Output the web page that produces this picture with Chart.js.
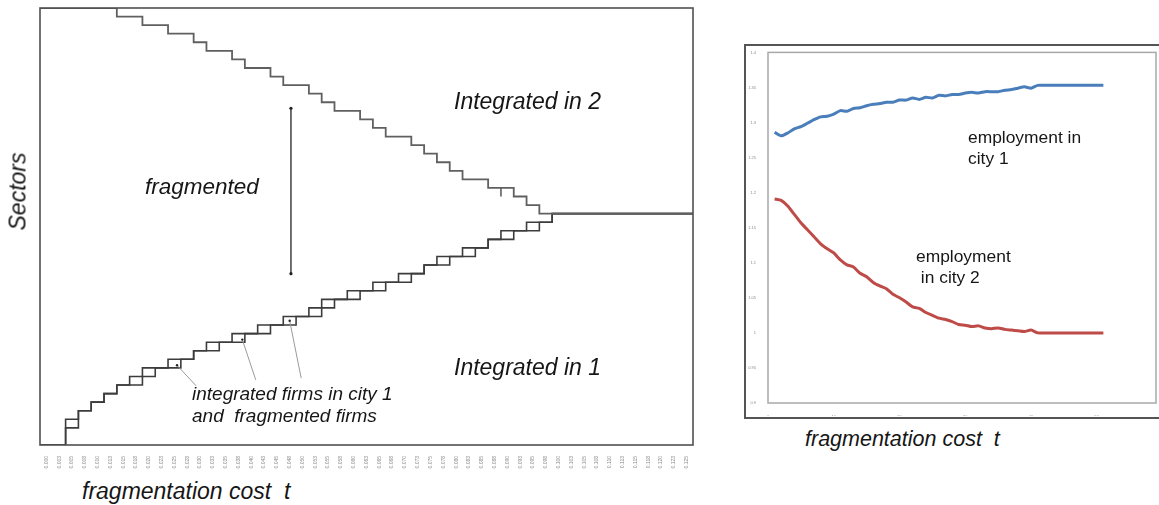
<!DOCTYPE html>
<html>
<head>
<meta charset="utf-8">
<script src="https://cdn.jsdelivr.net/npm/chart.js@4.4.1/dist/chart.umd.min.js"></script>
<style>
  body { margin: 0; background: #fff; width: 1159px; height: 505px; overflow: hidden; position: relative;
         font-family: "Liberation Sans", Arial, sans-serif; }
  .txt { position: absolute; color: #161616; white-space: pre; line-height: 1; }
  .it { font-style: italic; }
  #left { position: absolute; left: 0; top: 0; }
  #rightFrame { position: absolute; left: 744px; top: 44px; width: 440px; height: 371px; border: 2px solid #555; }
  #right { position: absolute; left: 745px; top: 46px; }
</style>
</head>
<body>
<canvas id="left" width="700" height="475"></canvas>
<div id="rightFrame"></div>
<canvas id="right" width="420" height="370"></canvas>

<div class="txt it" style="left:454px;top:90px;font-size:23px;">Integrated in 2</div>
<div class="txt it" style="left:145px;top:176px;font-size:22.5px;">fragmented</div>
<div class="txt it" style="left:454px;top:356px;font-size:23px;">Integrated in 1</div>
<div class="txt it" style="left:192px;top:384px;font-size:19px;">integrated firms in city 1</div>
<div class="txt it" style="left:192px;top:406px;font-size:19px;">and  fragmented firms</div>
<div class="txt it" style="left:82px;top:480px;font-size:23px;">fragmentation cost  t</div>
<div class="txt it" style="left:-25px;top:180px;width:86px;text-align:center;font-size:23px;transform:rotate(-90deg);">Sectors</div>
<div class="txt it" style="left:805px;top:429px;font-size:21.5px;">fragmentation cost  t</div>
<div class="txt" style="left:968px;top:127px;font-size:17.4px;line-height:21px;">employment in
city 1</div>
<div class="txt" style="left:916px;top:246px;font-size:17.4px;line-height:21px;">employment
 in city 2</div>

<script>
// axis labels of the left panel (fragmentation cost t)
const tLabels = ['0.000','0.003','0.005','0.008','0.010','0.013','0.015','0.018','0.020','0.023',
  '0.025','0.028','0.030','0.033','0.035','0.038','0.040','0.043','0.045','0.048',
  '0.050','0.053','0.055','0.058','0.060','0.063','0.065','0.068','0.070','0.073',
  '0.075','0.078','0.080','0.083','0.085','0.088','0.090','0.093','0.095','0.098',
  '0.100','0.103','0.105','0.108','0.110','0.113','0.115','0.118','0.120','0.123','0.125'];

// sector level of each boundary, one value per t
const upperLevels = [51,51,51,51,51,51,50,50,49,49,48,48,47,46,46,45,44,44,43,42,
  42,41,40,39,39,38,37,36,36,35,34,33,32,31,31,30,30,29,28,27,
  27,27,27,27,27,27,27,27,27,27,27];
const lowerLevelsA = [0,0,3,4,5,6,7,8,9,9,10,10,11,12,12,13,13,14,14,15,
  15,16,17,17,18,18,19,19,20,20,21,22,22,23,23,24,25,25,26,26,
  27,27,27,27,27,27,27,27,27,27,27];
const lowerLevelsB = [0,0,2,4,5,6,7,7,8,9,9,10,11,11,12,12,13,13,14,14,
  15,15,16,17,17,18,18,19,19,20,21,21,22,22,23,24,24,25,25,26,
  27,27,27,27,27,27,27,27,27,27,27];
const notchX = [35.5, 35.5];
const notchY = [30, 29];

// annotation marks (data units)
const arrowX = 19.1;
const arrowY = [39.3, 20];
const leaderFrom = [[10.2, 9.3], [15.3, 12.3], [19.0, 14.5]];
const leaderTo = [[11.7, 6.9], [16.35, 7.6], [19.9, 7.8]];

// right panel: employment by step of t
const city1 = [1.286,1.281,1.285,1.291,1.294,1.299,1.304,1.308,1.309,1.312,
  1.317,1.316,1.320,1.321,1.324,1.326,1.327,1.329,1.329,1.332,
  1.332,1.335,1.333,1.336,1.335,1.339,1.338,1.340,1.340,1.342,
  1.343,1.342,1.344,1.344,1.344,1.346,1.347,1.349,1.351,1.349,
  1.353,1.353,1.353,1.353,1.353,1.353,1.353,1.353,1.353,1.353,1.353];
const city2 = [1.191,1.189,1.181,1.169,1.157,1.147,1.137,1.127,1.120,1.114,
  1.104,1.097,1.094,1.085,1.080,1.072,1.067,1.063,1.055,1.050,
  1.044,1.037,1.035,1.029,1.025,1.021,1.019,1.016,1.012,1.011,
  1.009,1.010,1.007,1.006,1.007,1.005,1.004,1.003,1.002,1.004,
  1.000,1.000,1.000,1.000,1.000,1.000,1.000,1.000,1.000,1.000,1.000];
const yLabelsRight = {'0.9':'0.9','0.95':'0.95','1':'1','1.05':'1.05','1.1':'1.1','1.15':'1.15',
  '1.2':'1.2','1.25':'1.25','1.3':'1.3','1.35':'1.35','1.4':'1.4'};

function toSteps(levels) {
    const pts = levels.map((v, i) => ({ x: i - 0.5, y: v }));
    pts.push({ x: levels.length - 0.5, y: levels[levels.length - 1] });
    return pts;
}

const framePlugin = {
    id: 'frame',
    afterDraw(chart, args, opts) {
        const a = chart.chartArea;
        const ctx = chart.ctx;
        ctx.save();
        ctx.strokeStyle = opts.color;
        ctx.lineWidth = opts.width;
        ctx.strokeRect(a.left, a.top, a.right - a.left, a.bottom - a.top);
        ctx.restore();
    }
};

const marksPlugin = {
    id: 'marks',
    afterDatasetsDraw(chart) {
        const ctx = chart.ctx;
        const x = chart.scales.x, y = chart.scales.y;
        ctx.save();
        // arrow between the two boundaries
        const ax = x.getPixelForValue(arrowX);
        ctx.strokeStyle = '#333';
        ctx.lineWidth = 1.4;
        ctx.beginPath();
        ctx.moveTo(ax, y.getPixelForValue(arrowY[0]));
        ctx.lineTo(ax, y.getPixelForValue(arrowY[1]));
        ctx.stroke();
        ctx.fillStyle = '#222';
        arrowY.forEach(v => {
            ctx.beginPath();
            ctx.arc(ax, y.getPixelForValue(v), 1.6, 0, Math.PI * 2);
            ctx.fill();
        });
        // leader lines to the note
        ctx.strokeStyle = '#9a9a9a';
        ctx.lineWidth = 1;
        leaderFrom.forEach((p, i) => {
            const q = leaderTo[i];
            ctx.beginPath();
            ctx.moveTo(x.getPixelForValue(p[0]), y.getPixelForValue(p[1]));
            ctx.lineTo(x.getPixelForValue(q[0]), y.getPixelForValue(q[1]));
            ctx.stroke();
            ctx.beginPath();
            ctx.arc(x.getPixelForValue(p[0]), y.getPixelForValue(p[1]), 1.2, 0, Math.PI * 2);
            ctx.fill();
        });
        ctx.restore();
    }
};

const stairStyle = { borderWidth: 1.6, pointRadius: 0, stepped: true, fill: false };

new Chart(document.getElementById('left'), {
    type: 'line',
    data: {
        datasets: [
            { ...stairStyle, label: 'integrated in 2', data: toSteps(upperLevels), borderColor: '#606060', borderWidth: 1.8 },
            { ...stairStyle, label: 'integrated in 1', data: toSteps(lowerLevelsA), borderColor: '#3c3c3c' },
            { ...stairStyle, label: 'fragmented', data: toSteps(lowerLevelsB), borderColor: '#3c3c3c' },
            { ...stairStyle, label: 'notch', data: notchX.map((v, i) => ({ x: v, y: notchY[i] })), borderColor: '#606060', stepped: false }
        ]
    },
    options: {
        responsive: false,
        animation: false,
        layout: { padding: { left: 40, top: 8, right: 7, bottom: 0 } },
        plugins: { legend: { display: false }, tooltip: { enabled: false }, frame: { color: '#505050', width: 1.6 } },
        scales: {
            x: {
                type: 'linear',
                min: -0.5,
                max: 50.5,
                grid: { display: false },
                border: { display: false },
                afterBuildTicks: s => { s.ticks = tLabels.map((_, i) => ({ value: i })); },
                afterFit: s => { s.height = 30; },
                ticks: {
                    autoSkip: false,
                    minRotation: 90,
                    maxRotation: 90,
                    padding: 3,
                    color: '#8a8a8a',
                    font: { size: 5, family: 'Liberation Sans' },
                    callback: v => tLabels[v]
                }
            },
            y: { display: false, min: 0, max: 51 }
        }
    },
    plugins: [framePlugin, marksPlugin]
});

new Chart(document.getElementById('right'), {
    type: 'line',
    data: {
        datasets: [
            { label: 'employment in city 1', data: city1.map((v, i) => ({ x: i + 1, y: v })),
              borderColor: '#4a7ebb', borderWidth: 3, pointRadius: 0, tension: 0.2 },
            { label: 'employment in city 2', data: city2.map((v, i) => ({ x: i + 1, y: v })),
              borderColor: '#be4b48', borderWidth: 3, pointRadius: 0, tension: 0.2 }
        ]
    },
    options: {
        responsive: false,
        animation: false,
        layout: { padding: { left: 0, top: 5, right: 9, bottom: 0 } },
        plugins: { legend: { display: false }, tooltip: { enabled: false }, frame: { color: '#a8a8a8', width: 1.5 } },
        scales: {
            x: {
                type: 'linear', min: 0, max: 59,
                grid: { display: false }, border: { display: false },
                afterBuildTicks: s => { s.ticks = s.ticks.filter(t => t.value % 10 === 0); },
                afterFit: s => { s.height = 13; },
                ticks: { stepSize: 10, padding: 3, color: '#8a8a8a', font: { size: 4 } }
            },
            y: {
                min: 0.9, max: 1.4,
                grid: { display: false }, border: { display: false },
                afterFit: s => { s.width = 23; },
                ticks: { stepSize: 0.05, padding: 4, color: '#8a8a8a', font: { size: 4 },
                         callback: v => yLabelsRight[String(Math.round(v * 100) / 100)] }
            }
        }
    },
    plugins: [framePlugin]
});
</script>
</body>
</html>
